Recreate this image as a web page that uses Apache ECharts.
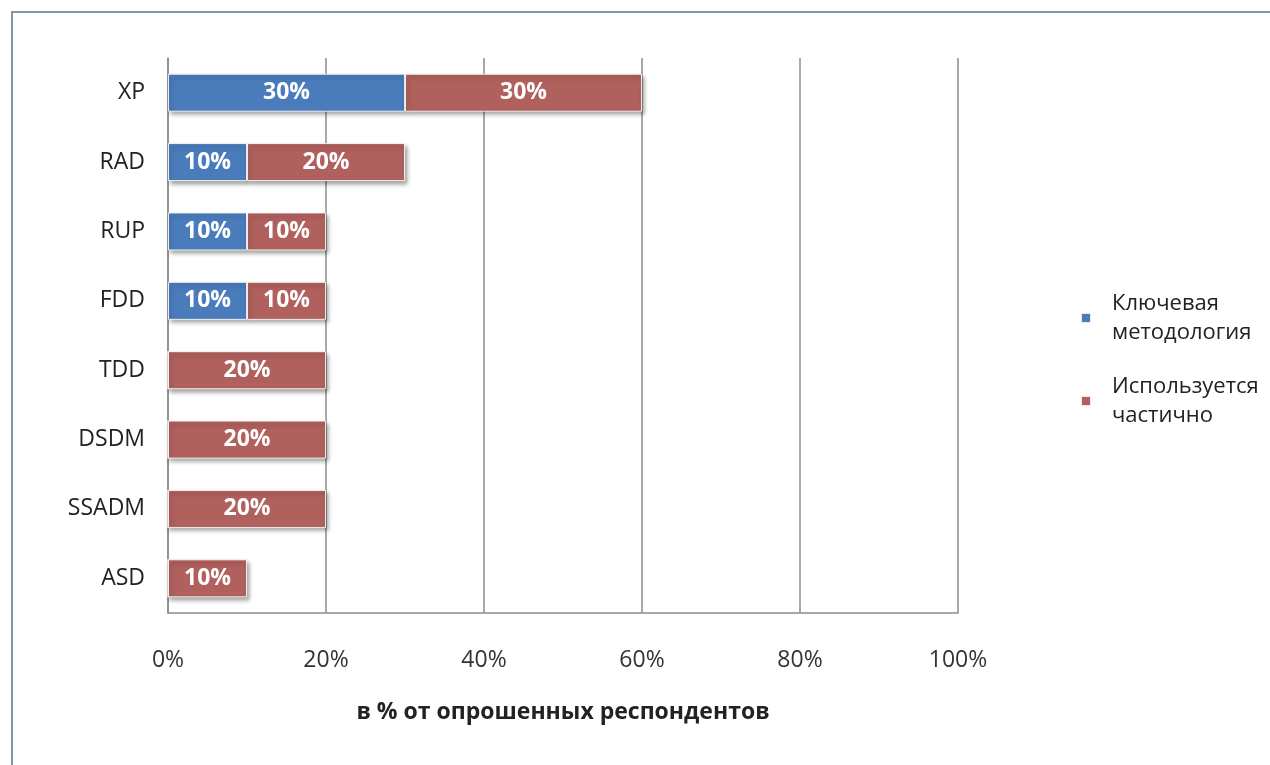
<!DOCTYPE html>
<html>
<head>
<meta charset="utf-8">
<script src="https://cdn.jsdelivr.net/npm/echarts@6/dist/echarts.min.js"></script>
<style>
  html, body { margin: 0; padding: 0; background: #ffffff; }
  #chart { width: 1270px; height: 765px; }
</style>
</head>
<body>
<div id="chart"></div>
<script>
// Methodologies, top to bottom
const categories = ['XP', 'RAD', 'RUP', 'FDD', 'TDD', 'DSDM', 'SSADM', 'ASD'];
// Share of respondents, %
const keyMethod = [30, 10, 10, 10, 0, 0, 0, 0];
const partlyUsed = [30, 20, 10, 10, 20, 20, 20, 10];
const seriesNames = ['Ключевая\nметодология', 'Используется\nчастично'];
const xTicks = { min: 0, max: 100, step: 20 };
const axisTitle = 'в % от опрошенных респондентов';

const FONT = '"Open Sans", "Noto Sans", sans-serif';
const BLUE = '#4a7cbb';
const RED = '#b0605d';

const chart = echarts.init(document.getElementById('chart'), null, { renderer: 'canvas' });

const barStyle = (color) => ({
  color: color,
  borderColor: 'rgba(255,255,255,0.85)',
  borderWidth: 1,
  shadowColor: 'rgba(0,0,0,0.35)',
  shadowBlur: 4,
  shadowOffsetX: 2,
  shadowOffsetY: 3
});

const barLabel = {
  show: true,
  position: 'inside',
  color: '#ffffff',
  fontFamily: FONT,
  fontWeight: 'bold',
  fontSize: 23,
  formatter: (p) => (p.value > 0 ? p.value + '%' : '')
};

chart.setOption({
  backgroundColor: '#ffffff',
  animation: false,
  graphic: [{
    type: 'rect',
    shape: { x: 12, y: 12, width: 1300, height: 800 },
    style: { fill: 'none', stroke: '#8597a8', lineWidth: 2 },
    silent: true,
    z: -1
  }],
  grid: { left: 168, right: 312, top: 58, bottom: 152, containLabel: false },
  legend: {
    orient: 'vertical',
    left: 1075,
    top: 284,
    itemWidth: 10,
    itemHeight: 10,
    itemGap: 25,
    icon: 'rect',
    textStyle: { fontFamily: FONT, fontSize: 22, color: '#222222', lineHeight: 29, padding: [0, 0, 0, 16] },
    data: seriesNames
  },
  xAxis: {
    type: 'value',
    min: xTicks.min,
    max: xTicks.max,
    interval: xTicks.step,
    name: axisTitle,
    nameLocation: 'middle',
    nameGap: 88,
    nameTextStyle: { fontFamily: FONT, fontSize: 23, fontWeight: 'bold', color: '#222222' },
    axisLine: { show: true, lineStyle: { color: '#8c8c8c', width: 1.5 } },
    axisTick: { show: false },
    axisLabel: { formatter: '{value}%', margin: 36, fontFamily: FONT, fontSize: 23, color: '#333333' },
    splitLine: { show: true, lineStyle: { color: '#8c8c8c', width: 1.5 } }
  },
  yAxis: {
    type: 'category',
    inverse: true,
    data: categories,
    axisLine: { show: true, lineStyle: { color: '#8c8c8c', width: 1.5 } },
    axisTick: { show: false },
    axisLabel: { margin: 23, fontFamily: FONT, fontSize: 23, color: '#222222' },
    splitLine: { show: false }
  },
  series: [
    {
      name: seriesNames[0],
      type: 'bar',
      stack: 'total',
      barWidth: 38,
      data: keyMethod,
      itemStyle: barStyle(BLUE),
      label: barLabel
    },
    {
      name: seriesNames[1],
      type: 'bar',
      stack: 'total',
      barWidth: 38,
      data: partlyUsed,
      itemStyle: barStyle(RED),
      label: barLabel
    }
  ]
});
</script>
</body>
</html>
